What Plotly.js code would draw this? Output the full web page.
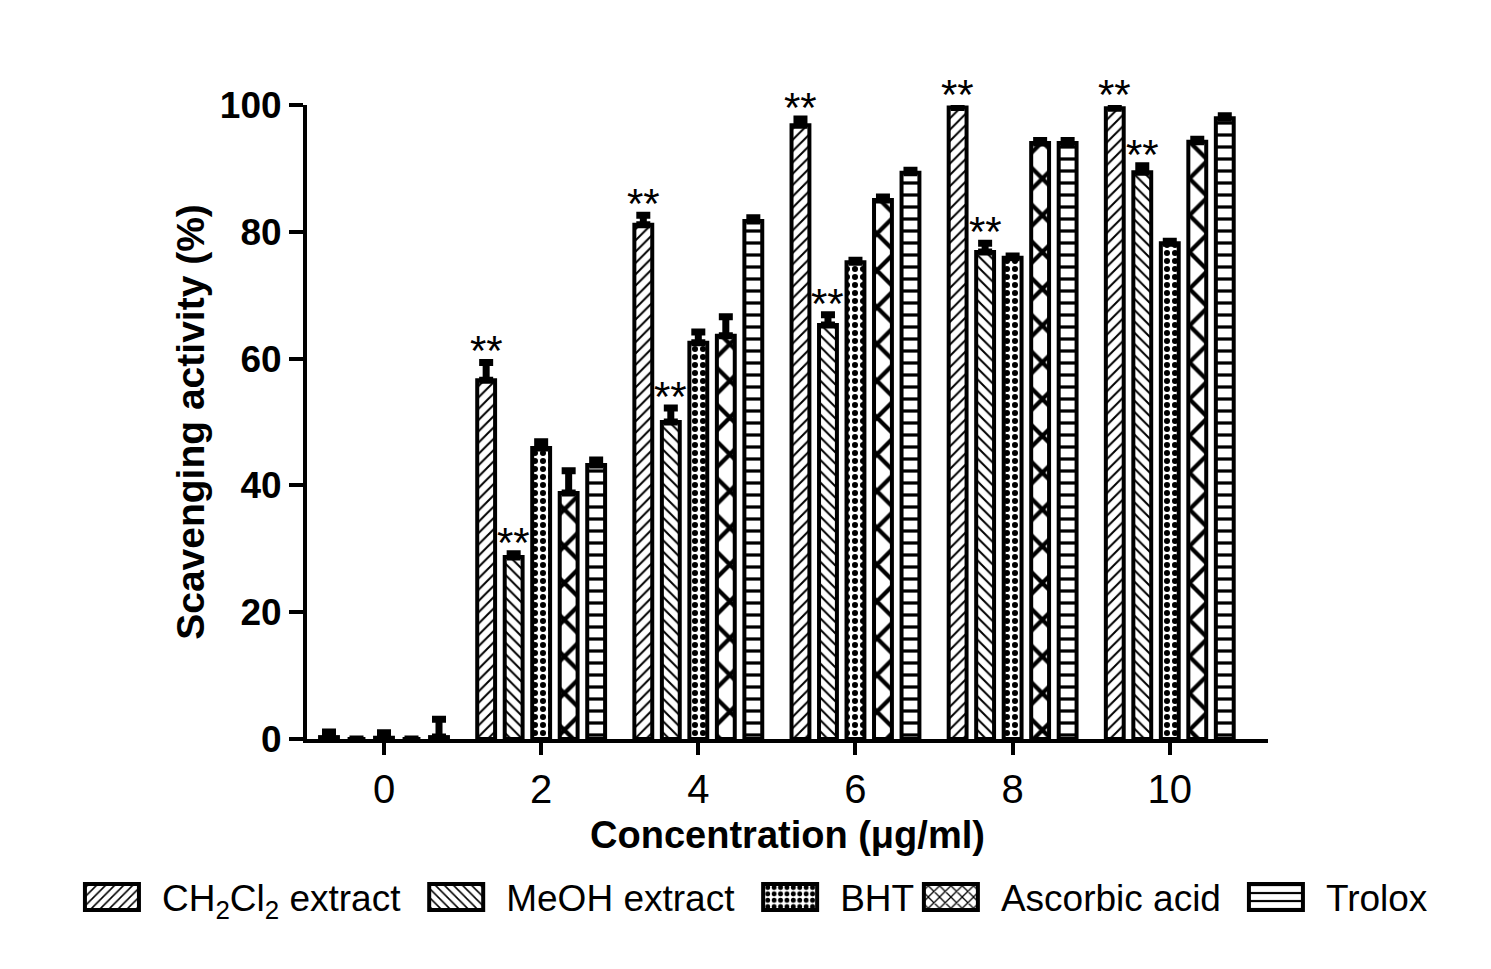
<!DOCTYPE html>
<html>
<head>
<meta charset="utf-8">
<script src="https://cdn.plot.ly/plotly-3.0.1.min.js"></script>
<style>
  html, body { margin: 0; padding: 0; background: #fff; }
  #chart { width: 1491px; height: 969px; }
</style>
</head>
<body>
<div id="chart"></div>
<script>
// concentrations (ug/ml)
const concentrations = [0, 2, 4, 6, 8, 10];

// scavenging activity (%), mean and upper SEM
const ch2cl2 = [0.3, 56.6, 81.1, 96.8, 99.6, 99.5];
const ch2cl2Err = [0.8, 2.8, 1.5, 1.0, 0.3, 0.3];
const meoh = [0, 28.7, 50.0, 65.3, 76.8, 89.4];
const meohErr = [0, 0.5, 2.2, 1.6, 1.4, 1.0];
const bht = [0.2, 45.9, 62.5, 75.2, 75.9, 78.2];
const bhtErr = [0.8, 1.0, 1.7, 0.3, 0.3, 0.3];
const ascorbic = [0, 38.8, 63.6, 85.0, 94.0, 94.2];
const ascorbicErr = [0, 3.5, 3.0, 0.5, 0.4, 0.4];
const trolox = [0.3, 43.2, 81.7, 89.3, 94.0, 97.9];
const troloxErr = [2.8, 0.8, 0.5, 0.4, 0.4, 0.4];

// significance marks (** vs control)
const ch2cl2Sig = ['', '**', '**', '**', '**', '**'];
const meohSig = ['', '**', '**', '**', '**', '**'];

const seriesNames = ['CH<sub>2</sub>Cl<sub>2</sub> extract', 'MeOH extract', 'BHT', 'Ascorbic acid', 'Trolox'];

const BARGAP = 0.125;
const FONT = 'Liberation Sans, Arial, sans-serif';

function barTrace(name, y, err, pattern, legend) {
  return {
    type: 'bar',
    name: name,
    legend: legend,
    x: concentrations,
    y: y,
    cliponaxis: false,
    marker: {
      color: 'white',
      line: { color: 'black', width: 4 },
      pattern: Object.assign({ fgcolor: 'black', bgcolor: 'white', fillmode: 'replace' }, pattern)
    },
    error_y: {
      type: 'data',
      symmetric: false,
      array: err,
      arrayminus: y.map(() => 0),
      color: 'black',
      thickness: 7,
      width: 7
    },
    hoverinfo: 'x+y'
  };
}

// legend is split in two so the single row does not wrap
const traces = [
  barTrace(seriesNames[0], ch2cl2, ch2cl2Err, { shape: '/', size: 8, solidity: 0.25 }, 'legend'),
  barTrace(seriesNames[1], meoh, meohErr, { shape: '\\', size: 8, solidity: 0.25 }, 'legend'),
  barTrace(seriesNames[2], bht, bhtErr, { shape: '.', size: 8, solidity: 0.45 }, 'legend'),
  barTrace(seriesNames[3], ascorbic, ascorbicErr, { shape: 'x', size: 26, solidity: 0.3 }, 'legend2'),
  barTrace(seriesNames[4], trolox, troloxErr, { shape: '-', size: 12, solidity: 0.27 }, 'legend2')
];

// place ** above the error bar of each marked bar, using the group layout
const nSeries = traces.length;
const slot = 2 * (1 - BARGAP) / nSeries;
const annotations = [];
[[0, ch2cl2, ch2cl2Err, ch2cl2Sig], [1, meoh, meohErr, meohSig]].forEach(([idx, vals, errs, sig]) => {
  sig.forEach((s, j) => {
    if (!s) return;
    annotations.push({
      x: concentrations[j] + (idx - (nSeries - 1) / 2) * slot,
      y: vals[j] + errs[j],
      text: s,
      showarrow: false,
      yanchor: 'bottom',
      yshift: -14,
      font: { family: FONT, size: 42, color: 'black' }
    });
  });
});

const legendStyle = {
  orientation: 'h',
  xanchor: 'left',
  y: -0.25,
  yanchor: 'middle',
  itemwidth: 90,
  font: { family: FONT, size: 37, color: 'black' },
  bgcolor: 'rgba(0,0,0,0)'
};

const layout = {
  width: 1491,
  height: 969,
  margin: { l: 307, r: 223, t: 105, b: 230 },
  paper_bgcolor: 'white',
  plot_bgcolor: 'white',
  barmode: 'group',
  bargap: BARGAP,
  bargroupgap: 0.35,
  font: { family: FONT, color: 'black' },
  showlegend: true,
  legend: Object.assign({ x: -0.255 }, legendStyle),
  legend2: Object.assign({ x: 0.618 }, legendStyle),
  xaxis: {
    range: [-0.98, 11.25],
    tickvals: concentrations,
    ticktext: concentrations.map(String),
    ticks: 'outside',
    ticklen: 12,
    tickwidth: 4,
    tickcolor: 'black',
    showline: true,
    linewidth: 4,
    linecolor: 'black',
    showgrid: false,
    zeroline: false,
    tickfont: { family: FONT, size: 40, color: 'black' },
    title: {
      text: '<b>Concentration (μg/ml)</b>',
      font: { family: FONT, size: 38, color: 'black' },
      standoff: 12
    }
  },
  yaxis: {
    range: [0, 100],
    tickvals: [0, 20, 40, 60, 80, 100],
    ticks: 'outside',
    ticklen: 14,
    tickwidth: 4,
    tickcolor: 'black',
    showline: true,
    linewidth: 4,
    linecolor: 'black',
    showgrid: false,
    zeroline: false,
    tickfont: { family: FONT, size: 37, color: 'black', weight: 'bold' },
    title: {
      text: '<b>Scavenging activity (%)</b>',
      font: { family: FONT, size: 39, color: 'black' },
      standoff: 4
    }
  },
  // x-axis baseline runs on left under the y ticks, as in the original
  shapes: [{
    type: 'line', xref: 'paper', yref: 'y',
    x0: -0.016, x1: 0, y0: 0, y1: 0,
    line: { color: 'black', width: 4 }
  }],
  annotations: annotations
};

Plotly.newPlot('chart', traces, layout, { displayModeBar: false, staticPlot: true }).then(() => {
  // bigger legend swatches, like the original figure
  document.querySelectorAll('.legendpoints path').forEach(p => {
    p.setAttribute('d', 'M27,13H-27V-13H27Z');
    p.style.strokeWidth = '4px';
  });
});
</script>
</body>
</html>
